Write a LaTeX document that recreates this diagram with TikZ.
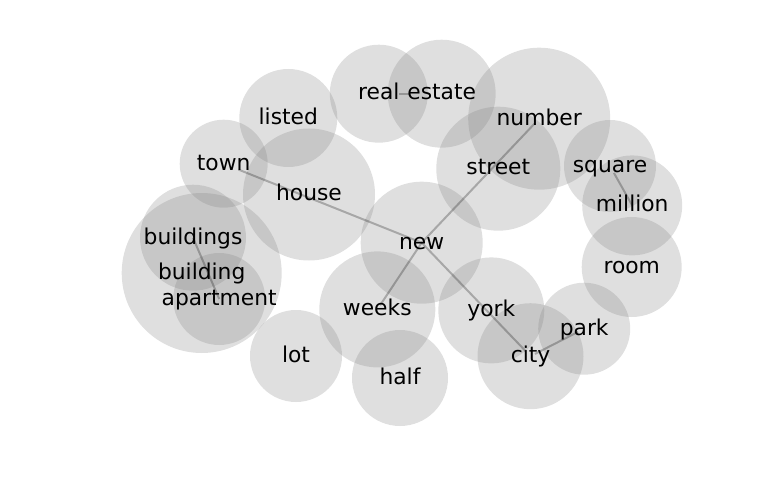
\documentclass[tikz,border=0pt]{standalone}
\usepackage{fontspec}
\setmainfont{DejaVu Sans}
\usetikzlibrary{backgrounds}
\definecolor{bubblegray}{RGB}{128,128,128}
\definecolor{linkgray} {RGB}{0,0,0}
\tikzset{
  bubble/.style={circle,fill=bubblegray,fill opacity=0.25,inner sep=0pt},
  word/.style={font=\fontsize{21.8}{26}\selectfont,text=black,inner sep=1pt,
               text height=16.6pt,text depth=4pt},
  link/.style={draw=linkgray,draw opacity=0.25,line width=2pt},
}
\begin{document}
\begin{tikzpicture}[x=1pt,y=-1pt]
  \useasboundingbox (0,0) rectangle (768,500);

  \begin{scope}[on background layer]
  \node[bubble,minimum size=98pt] (c-listed)    at (288.3,118)   {};
  \node[bubble,minimum size=98pt] (c-real)      at (378.8,93.7)  {};
  \node[bubble,minimum size=108pt](c-estate)    at (441.7,93.7)  {};
  \node[bubble,minimum size=142pt](c-number)    at (539.2,118.7) {};
  \node[bubble,minimum size=124pt](c-street)    at (498.3,168.7) {};
  \node[bubble,minimum size=88pt] (c-town)      at (223.7,163.7) {};
  \node[bubble,minimum size=132pt](c-house)     at (309,194.5)   {};
  \node[bubble,minimum size=92pt] (c-square)    at (610,166)     {};
  \node[bubble,minimum size=100pt](c-million)   at (632.2,205.4) {};
  \node[bubble,minimum size=100pt](c-room)      at (631.7,267)   {};
  \node[bubble,minimum size=122pt](c-new)       at (421.7,242.7) {};
  \node[bubble,minimum size=106pt](c-buildings) at (193,237.7)   {};
  \node[bubble,minimum size=160pt](c-building)  at (201.7,273)   {};
  \node[bubble,minimum size=92pt] (c-apartment) at (219.2,299)   {};
  \node[bubble,minimum size=116pt](c-weeks)     at (377.3,309.4) {};
  \node[bubble,minimum size=106pt](c-york)      at (491.3,310.4) {};
  \node[bubble,minimum size=92pt] (c-park)      at (584.2,328.7) {};
  \node[bubble,minimum size=106pt](c-city)      at (530.5,356.2) {};
  \node[bubble,minimum size=92pt] (c-lot)       at (296,356)     {};
  \node[bubble,minimum size=96pt] (c-half)      at (400,378)     {};
  \end{scope}

  % links
  \draw[link,shorten <=16pt] (c-town.center) -- (c-new.center);
  \draw[link,shorten >=7pt] (c-new.center) -- (c-number.center);
  \draw[link,shorten >=5pt] (c-new.center) -- (c-weeks.center);
  \draw[link,shorten >=7pt] (c-new.center) -- (c-city.center);
  \draw[link,shorten <=5pt,shorten >=7pt] (c-city.center) -- (c-park.center);
  \draw[link,shorten <=20pt,shorten >=33pt] (c-real.center) -- (c-estate.center);
  \draw[link,shorten <=8pt] (c-square.center) -- (c-million.center);
  \draw[link] (c-buildings.center) -- (c-apartment.center);

  \node[word] (listed)    at (c-listed)    {listed};
  \node[word] (real)      at (c-real)      {real};
  \node[word] (estate)    at (c-estate)    {estate};
  \node[word] (number)    at (c-number)    {number};
  \node[word] (street)    at (c-street)    {street};
  \node[word] (town)      at (c-town)      {town};
  \node[word] (house)     at (c-house)     {house};
  \node[word] (square)    at (c-square)    {square};
  \node[word] (million)   at (c-million)   {million};
  \node[word] (room)      at (c-room)      {room};
  \node[word] (new)       at (c-new)       {new};
  \node[word] (buildings) at (c-buildings) {buildings};
  \node[word] (building)  at (c-building)  {building};
  \node[word] (apartment) at (c-apartment) {apartment};
  \node[word] (weeks)     at (c-weeks)     {weeks};
  \node[word] (york)      at (c-york)      {york};
  \node[word] (park)      at (c-park)      {park};
  \node[word] (city)      at (c-city)      {city};
  \node[word] (lot)       at (c-lot)       {lot};
  \node[word] (half)      at (c-half)      {half};
\end{tikzpicture}
\end{document}
